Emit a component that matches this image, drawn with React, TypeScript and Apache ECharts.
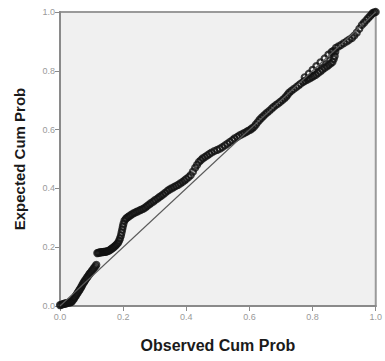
import React, { useEffect, useRef } from "react";
import * as echarts from "echarts";

const xTitle = "Observed Cum Prob";
const yTitle = "Expected Cum Prob";

// Observed cumulative probability (x)
const observed = [
  0.000, 0.004, 0.008, 0.012, 0.015, 0.019, 0.022, 0.026, 0.030, 0.034,
  0.037, 0.041, 0.044, 0.047, 0.050, 0.053, 0.056, 0.059, 0.062, 0.065,
  0.068, 0.071, 0.074, 0.077, 0.080, 0.084, 0.087, 0.091, 0.094, 0.098,
  0.101, 0.105, 0.108, 0.112, 0.115,
  0.118, 0.121, 0.124, 0.128, 0.131, 0.135, 0.138, 0.142, 0.145, 0.149,
  0.152, 0.156, 0.160, 0.164, 0.168, 0.172, 0.176, 0.180, 0.184, 0.187,
  0.190, 0.193, 0.195, 0.197, 0.199, 0.201, 0.204, 0.208, 0.212, 0.217,
  0.222, 0.228, 0.234, 0.240, 0.246, 0.252, 0.258, 0.264, 0.270, 0.276,
  0.282, 0.288, 0.295, 0.301, 0.308, 0.314, 0.320, 0.326, 0.333, 0.340,
  0.346, 0.353, 0.360, 0.367, 0.374, 0.381, 0.388, 0.394, 0.400, 0.407,
  0.414, 0.421, 0.428, 0.434, 0.440, 0.446, 0.452, 0.459, 0.466, 0.473,
  0.480, 0.489, 0.498, 0.506, 0.514, 0.522, 0.530, 0.538, 0.546, 0.553,
  0.561, 0.568, 0.576, 0.583, 0.590, 0.596, 0.603, 0.608, 0.614, 0.620,
  0.626, 0.632, 0.638, 0.644, 0.650, 0.656, 0.663, 0.670, 0.676, 0.683,
  0.690, 0.697, 0.704, 0.710, 0.716, 0.721, 0.726, 0.733, 0.740, 0.748,
  0.755, 0.762, 0.770, 0.776, 0.783, 0.790, 0.797, 0.803, 0.810, 0.817,
  0.824, 0.831, 0.838, 0.845, 0.851, 0.857, 0.863, 0.867, 0.870, 0.872,
  0.874, 0.882, 0.890, 0.899, 0.908, 0.916, 0.925, 0.932, 0.940, 0.948,
  0.956, 0.963, 0.970, 0.976, 0.982, 0.987, 0.991, 0.996, 1.000,
  0.775, 0.788, 0.800, 0.812, 0.825, 0.838, 0.850, 0.860, 0.866,
];
// Expected cumulative probability (y)
const expected = [
  0.003, 0.004, 0.006, 0.007, 0.008, 0.009, 0.010, 0.011, 0.012, 0.013,
  0.015, 0.020, 0.025, 0.030, 0.035, 0.040, 0.045, 0.050, 0.055, 0.060,
  0.066, 0.072, 0.078, 0.083, 0.088, 0.094, 0.099, 0.105, 0.110, 0.115,
  0.120, 0.125, 0.130, 0.135, 0.140,
  0.180, 0.181, 0.182, 0.182, 0.183, 0.183, 0.184, 0.184, 0.185, 0.186,
  0.187, 0.189, 0.192, 0.195, 0.198, 0.202, 0.206, 0.210, 0.215, 0.222,
  0.230, 0.240, 0.250, 0.260, 0.270, 0.280, 0.290, 0.296, 0.300, 0.304,
  0.308, 0.312, 0.316, 0.319, 0.322, 0.325, 0.328, 0.331, 0.335, 0.340,
  0.345, 0.350, 0.355, 0.360, 0.365, 0.370, 0.374, 0.379, 0.385, 0.391,
  0.396, 0.400, 0.404, 0.408, 0.412, 0.417, 0.422, 0.427, 0.432, 0.438,
  0.445, 0.457, 0.470, 0.480, 0.490, 0.496, 0.502, 0.507, 0.512, 0.517,
  0.522, 0.527, 0.531, 0.535, 0.540, 0.546, 0.552, 0.558, 0.564, 0.570,
  0.575, 0.580, 0.584, 0.588, 0.592, 0.596, 0.600, 0.604, 0.609, 0.617,
  0.625, 0.633, 0.640, 0.646, 0.652, 0.658, 0.664, 0.671, 0.677, 0.683,
  0.688, 0.694, 0.700, 0.706, 0.712, 0.719, 0.726, 0.732, 0.738, 0.744,
  0.750, 0.756, 0.762, 0.766, 0.770, 0.774, 0.778, 0.782, 0.786, 0.792,
  0.798, 0.804, 0.810, 0.815, 0.820, 0.825, 0.830, 0.840, 0.850, 0.865,
  0.878, 0.883, 0.888, 0.894, 0.900, 0.906, 0.912, 0.920, 0.930, 0.943,
  0.956, 0.964, 0.972, 0.979, 0.986, 0.992, 0.997, 0.999, 1.000,
  0.778, 0.790, 0.803, 0.816, 0.829, 0.842, 0.855, 0.864, 0.868,
];
const refLine = [
  [0, 0],
  [1, 1],
];

export default function App() {
  const ref = useRef<HTMLDivElement>(null);
  useEffect(() => {
    if (!ref.current) return;
    const chart = echarts.init(ref.current, undefined, { renderer: "svg" });
    const pts = observed.map((x, i) => [x, expected[i]]);
    const font = "Liberation Sans, Arial, sans-serif";
    const axisCommon = {
      type: "value" as const,
      min: 0,
      max: 1,
      interval: 0.2,
      axisLine: { show: true, lineStyle: { color: "#8a8a8a", width: 2 } },
      axisTick: { show: true, length: 5, lineStyle: { color: "#8a8a8a", width: 1 } },
      axisLabel: {
        color: "#9a9a9a",
        fontSize: 9,
        fontFamily: font,
        formatter: (v: number) => v.toFixed(1),
      },
      splitLine: { show: false },
      nameLocation: "middle" as const,
    };
    chart.setOption({
      animation: false,
      backgroundColor: "#ffffff",
      grid: {
        left: 60,
        right: 4,
        top: 12,
        bottom: 55,
        show: true,
        backgroundColor: "#f0f0f0",
        borderColor: "#9a9a9a",
        borderWidth: 2,
      },
      xAxis: {
        ...axisCommon,
        name: xTitle,
        nameGap: 31,
        nameTextStyle: { color: "#1a1a1a", fontWeight: "bold", fontSize: 16, fontFamily: font },
        axisLabel: { ...axisCommon.axisLabel, margin: 6 },
      },
      yAxis: {
        ...axisCommon,
        name: yTitle,
        nameGap: 33,
        nameTextStyle: { color: "#1a1a1a", fontWeight: "bold", fontSize: 15, fontFamily: font },
        axisLabel: { ...axisCommon.axisLabel, margin: 5 },
      },
      series: [
        {
          type: "line",
          data: refLine,
          symbol: "none",
          lineStyle: { color: "#5a5a5a", width: 1.1 },
          silent: true,
        },
        {
          type: "scatter",
          data: pts,
          symbol: "circle",
          symbolSize: 6,
          itemStyle: {
            color: "rgba(0,0,0,0)",
            borderColor: "#111111",
            borderWidth: 2.2,
          },
        },
      ],
    });
    return () => chart.dispose();
  }, []);
  return (
    <div
      ref={ref}
      style={{ position: "fixed", left: 0, top: 0, width: 385, height: 361 }}
    />
  );
}
